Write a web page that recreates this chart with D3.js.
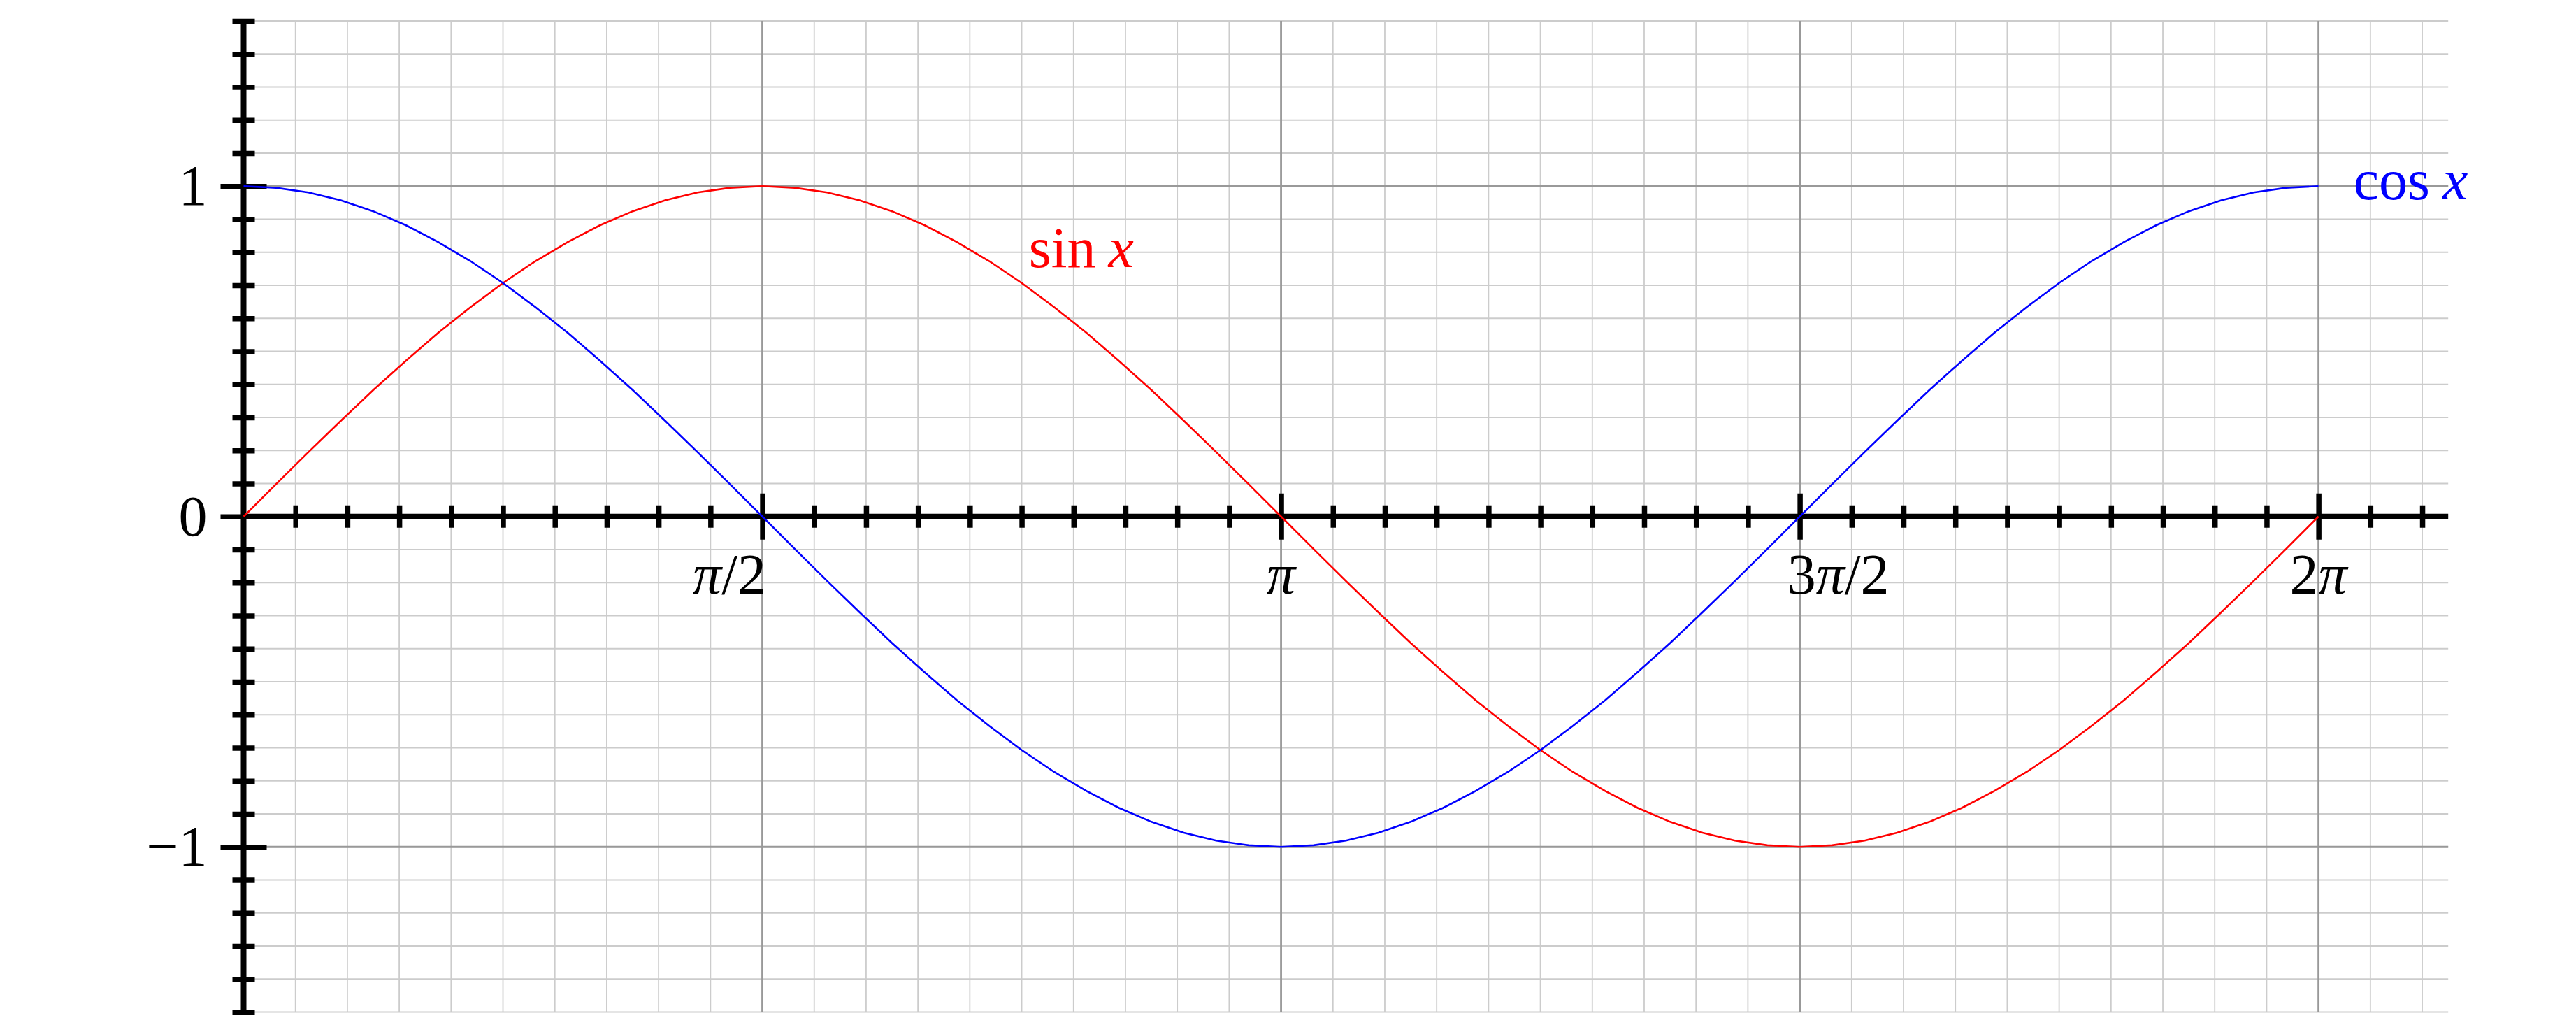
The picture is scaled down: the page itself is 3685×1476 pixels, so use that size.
<!DOCTYPE html>
<html>
<head>
<meta charset="utf-8">
<script src="https://cdn.jsdelivr.net/npm/d3@7"></script>
<style>
  body { margin: 0; background: #fff; }
  text { font-family: "Liberation Serif", "DejaVu Serif", serif; }
</style>
</head>
<body>
<script>
/*** data ***/
// sample points along x (radians), 65 samples from 0 to 2pi
const xs = [0, 0.0982, 0.1963, 0.2945, 0.3927, 0.4909, 0.5890, 0.6872, 0.7854, 0.8836, 0.9817, 1.0799, 1.1781, 1.2763, 1.3744, 1.4726, 1.5708,
  1.6690, 1.7671, 1.8653, 1.9635, 2.0617, 2.1598, 2.2580, 2.3562, 2.4544, 2.5525, 2.6507, 2.7489, 2.8471, 2.9452, 3.0434, 3.1416,
  3.2398, 3.3379, 3.4361, 3.5343, 3.6325, 3.7306, 3.8288, 3.9270, 4.0252, 4.1233, 4.2215, 4.3197, 4.4179, 4.5160, 4.6142, 4.7124,
  4.8106, 4.9087, 5.0069, 5.1051, 5.2033, 5.3014, 5.3996, 5.4978, 5.5960, 5.6941, 5.7923, 5.8905, 5.9887, 6.0868, 6.1850, 6.2832];

const sinValues = [0, 0.098, 0.195, 0.290, 0.383, 0.471, 0.556, 0.634, 0.707, 0.773, 0.831, 0.882, 0.924, 0.957, 0.981, 0.995, 1,
  0.995, 0.981, 0.957, 0.924, 0.882, 0.831, 0.773, 0.707, 0.634, 0.556, 0.471, 0.383, 0.290, 0.195, 0.098, 0,
  -0.098, -0.195, -0.290, -0.383, -0.471, -0.556, -0.634, -0.707, -0.773, -0.831, -0.882, -0.924, -0.957, -0.981, -0.995, -1,
  -0.995, -0.981, -0.957, -0.924, -0.882, -0.831, -0.773, -0.707, -0.634, -0.556, -0.471, -0.383, -0.290, -0.195, -0.098, 0];

const cosValues = [1, 0.995, 0.981, 0.957, 0.924, 0.882, 0.831, 0.773, 0.707, 0.634, 0.556, 0.471, 0.383, 0.290, 0.195, 0.098, 0,
  -0.098, -0.195, -0.290, -0.383, -0.471, -0.556, -0.634, -0.707, -0.773, -0.831, -0.882, -0.924, -0.957, -0.981, -0.995, -1,
  -0.995, -0.981, -0.957, -0.924, -0.882, -0.831, -0.773, -0.707, -0.634, -0.556, -0.471, -0.383, -0.290, -0.195, -0.098, 0,
  0.098, 0.195, 0.290, 0.383, 0.471, 0.556, 0.634, 0.707, 0.773, 0.831, 0.882, 0.924, 0.957, 0.981, 0.995, 1];

// ticks
const xMajorTicks = [1.5708, 3.1416, 4.7124, 6.2832];
const xTickLabels = [["π", "/2"], ["π", ""], ["3", "π", "/2"], ["2", "π"]];
const yMajorTicks = [-1, 0, 1];
const yTickLabels = ["−1", "0", "1"];

/*** layout ***/
const W = 3685, H = 1476;
const xMax = 6.676;             // axis runs a bit past 2pi
const x = d3.scaleLinear().domain([0, xMax]).range([348.5, 3502.2]);
const y = d3.scaleLinear().domain([-1.5, 1.5]).range([1447.5, 30]);

const xMinor = d3.range(0, 43).map(i => i * Math.PI / 20).filter(v => v <= xMax);
const yMinor = d3.range(-15, 16).map(i => i / 10);

const svg = d3.select("body").append("svg")
  .attr("width", W).attr("height", H);

/*** grid ***/
const grid = svg.append("g");
grid.selectAll(".gv").data(xMinor).join("line")
  .attr("x1", d => x(d)).attr("x2", d => x(d))
  .attr("y1", y(-1.5)).attr("y2", y(1.5))
  .attr("stroke", "#cccccc").attr("stroke-width", 1.8);
grid.selectAll(".gh").data(yMinor).join("line")
  .attr("x1", x(0)).attr("x2", x(xMax))
  .attr("y1", d => y(d)).attr("y2", d => y(d))
  .attr("stroke", "#cccccc").attr("stroke-width", 1.8);
// major grid
grid.append("g").selectAll("line").data(xMajorTicks).join("line")
  .attr("x1", d => x(d)).attr("x2", d => x(d))
  .attr("y1", y(-1.5)).attr("y2", y(1.5))
  .attr("stroke", "#999999").attr("stroke-width", 2.8);
grid.append("g").selectAll("line").data([-1, 1]).join("line")
  .attr("x1", x(0)).attr("x2", x(xMax))
  .attr("y1", d => y(d)).attr("y2", d => y(d))
  .attr("stroke", "#999999").attr("stroke-width", 2.8);

/*** axes ***/
const isMajorX = v => xMajorTicks.some(t => Math.abs(t - v) < 1e-3);
const isMajorY = v => yMajorTicks.some(t => Math.abs(t - v) < 1e-6);

// x axis, ticks drawn across the line
const xAxis = svg.append("g")
  .attr("transform", `translate(0,${y(0)})`)
  .call(d3.axisBottom(x).tickValues(xMinor.filter(v => v > 0)).tickFormat("").tickSizeOuter(0));
xAxis.select(".domain").attr("d", `M${x(0)},0H${x(xMax)}`)
  .attr("stroke", "#000").attr("stroke-width", 8);
xAxis.selectAll(".tick line")
  .attr("y1", d => isMajorX(d) ? -33 : -16)
  .attr("y2", d => isMajorX(d) ? 33 : 16)
  .attr("stroke", "#000").attr("stroke-width", 7.5);

// y axis
const yAxis = svg.append("g")
  .attr("transform", `translate(${x(0)},0)`)
  .call(d3.axisLeft(y).tickValues(yMinor).tickFormat("").tickSizeOuter(0));
yAxis.select(".domain").attr("d", `M0,${y(1.5)}V${y(-1.5)}`)
  .attr("stroke", "#000").attr("stroke-width", 8);
yAxis.selectAll(".tick line")
  .attr("x1", d => isMajorY(d) ? -33 : -16)
  .attr("x2", d => isMajorY(d) ? 33 : 16)
  .attr("stroke", "#000").attr("stroke-width", 7.5);

/*** curves ***/
const line = d3.line().x(d => x(d[0])).y(d => y(d[1]));
svg.append("path")
  .attr("d", line(xs.map((v, i) => [v, sinValues[i]])))
  .attr("fill", "none").attr("stroke", "#ff0000").attr("stroke-width", 2.6);
svg.append("path")
  .attr("d", line(xs.map((v, i) => [v, cosValues[i]])))
  .attr("fill", "none").attr("stroke", "#0000ff").attr("stroke-width", 2.6);

/*** tick labels ***/
const fs = 82;
const xLabelShift = [-47, 0, 55, 0];
xMajorTicks.forEach((t, i) => {
  const txt = svg.append("text")
    .attr("x", x(t) + xLabelShift[i]).attr("y", y(0) + 110)
    .attr("text-anchor", "middle").attr("font-size", fs);
  xTickLabels[i].forEach(s => {
    txt.append("tspan").text(s).attr("font-style", s === "π" ? "italic" : "normal");
  });
});

svg.append("g").selectAll("text").data(yMajorTicks).join("text")
  .attr("x", x(0) - 52).attr("y", d => y(d) + 27)
  .attr("text-anchor", "end").attr("font-size", fs)
  .text((d, i) => yTickLabels[i]);

/*** curve labels ***/
const sinLabel = svg.append("text")
  .attr("x", x(2.378)).attr("y", y(0.755))
  .attr("font-size", fs).attr("fill", "#ff0000");
sinLabel.append("tspan").text("sin");
sinLabel.append("tspan").attr("dx", 18).attr("font-style", "italic").text("x");

const cosLabel = svg.append("text")
  .attr("x", x(2 * Math.PI) + 50).attr("y", y(1) + 19)
  .attr("font-size", fs).attr("fill", "#0000ff");
cosLabel.append("tspan").text("cos");
cosLabel.append("tspan").attr("dx", 18).attr("font-style", "italic").text("x");
</script>
</body>
</html>
